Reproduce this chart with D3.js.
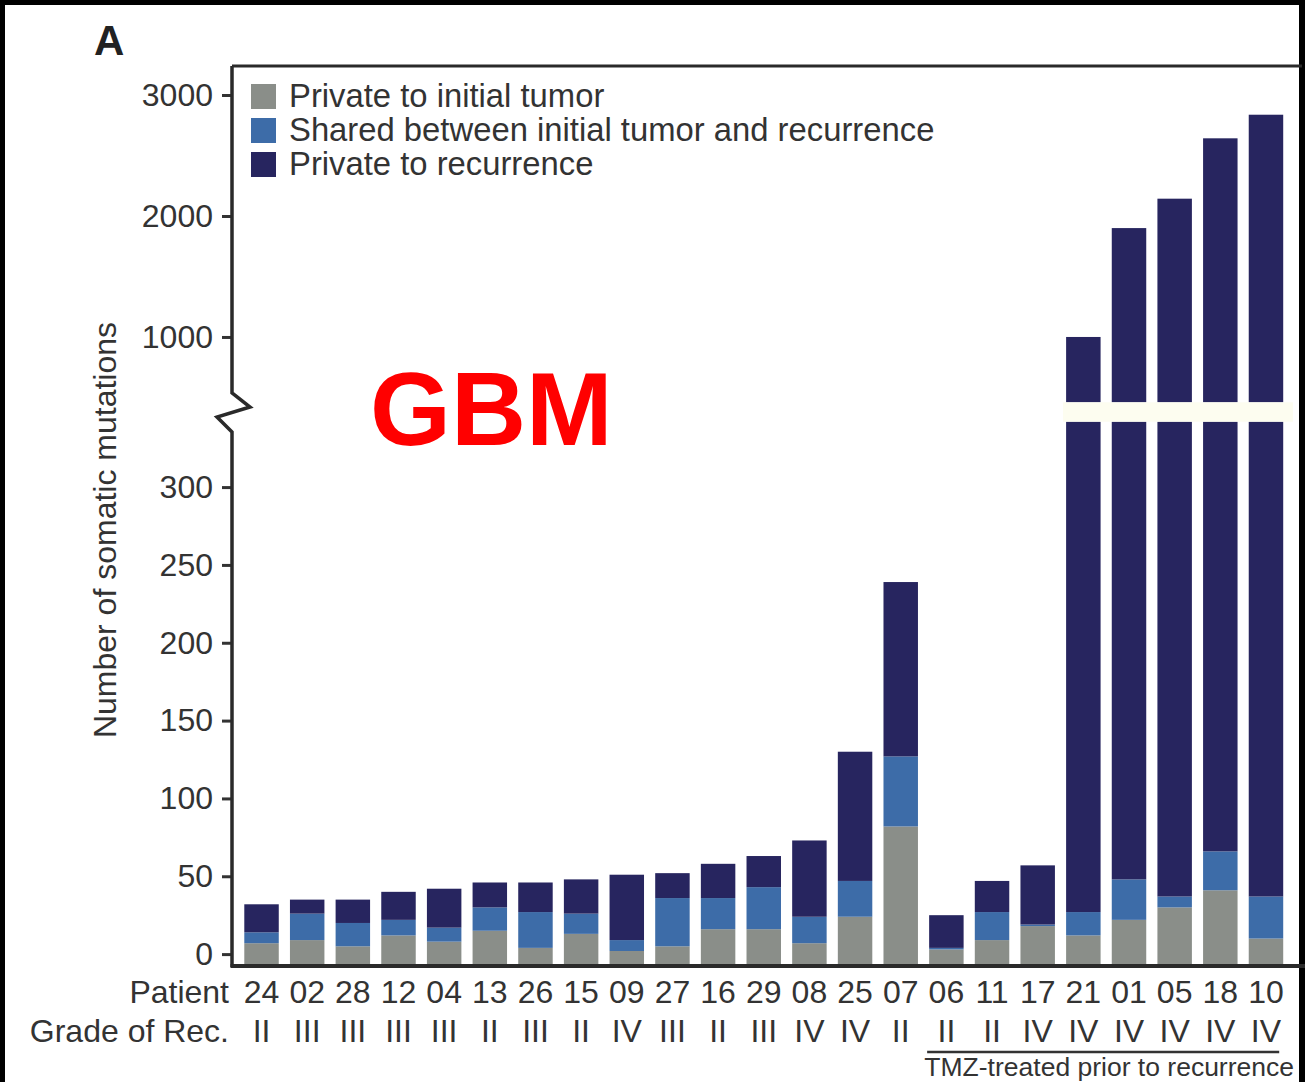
<!DOCTYPE html>
<html>
<head>
<meta charset="utf-8">
<script src="https://cdn.jsdelivr.net/npm/d3@7/dist/d3.min.js"></script>
<style>
  html, body { margin: 0; padding: 0; background: #ffffff; }
  svg { display: block; }
  text { font-family: "Liberation Sans", Arial, sans-serif; fill: #333; }
</style>
</head>
<body>
<svg id="chart" width="1305" height="1082"></svg>
<script>
// ---- data ----
const patients = ["24","02","28","12","04","13","26","15","09","27","16","29","08","25","07","06","11","17","21","01","05","18","10"];
const grades   = ["II","III","III","III","III","II","III","II","IV","III","II","III","IV","IV","II","II","II","IV","IV","IV","IV","IV","IV"];
const privateInitial = [7, 9, 5, 12, 8, 15, 4, 13, 2, 5, 16, 16, 7, 24, 82, 3, 9, 18, 12, 22, 30, 41, 10];
const shared         = [7, 17, 15, 10, 9, 15, 23, 13, 7, 31, 20, 27, 17, 23, 45, 1, 18, 1, 15, 26, 7, 25, 27];
const privateRecur   = [18, 9, 15, 18, 25, 16, 19, 22, 42, 16, 22, 20, 49, 83, 112, 21, 20, 38, 973, 1852, 2106, 2576, 2800];
const seriesNames = ["Private to initial tumor", "Shared between initial tumor and recurrence", "Private to recurrence"];
const seriesColors = ["#8a8e89", "#3d6ca8", "#27255f"];
const lowTicks = [0, 50, 100, 150, 200, 250, 300];
const highTicks = [1000, 2000, 3000];
const tmzStart = "06", tmzEnd = "10";
const tmzLabel = "TMZ-treated prior to recurrence";

// ---- layout ----
const svg = d3.select("#chart");
const axisX = 232;

const x = d3.scaleBand().domain(patients).range([238.7, 1288.8]).paddingInner(0.245).paddingOuter(0.1225);
const yLow = d3.scaleLinear().domain([-7, 342]).range([965, 421.7]);
const yHigh = d3.scaleLinear().domain([460, 3000]).range([402.3, 95]);

// image frame
svg.append("rect").attr("x", 0).attr("y", 0).attr("width", 1305).attr("height", 5).attr("fill", "#000");
svg.append("rect").attr("x", 0).attr("y", 0).attr("width", 5).attr("height", 1082).attr("fill", "#000");
svg.append("rect").attr("x", 1299).attr("y", 0).attr("width", 6).attr("height", 1082).attr("fill", "#000");

// stack data
const table = patients.map((p, i) => ({ patient: p, s0: privateInitial[i], s1: shared[i], s2: privateRecur[i] }));
const stacked = d3.stack().keys(["s0", "s1", "s2"])(table);
const base = yLow.domain()[0];

const [lowMin, lowMax] = yLow.domain();
const [highMin, highMax] = yHigh.domain();

stacked.forEach((layer, li) => {
  const g = svg.append("g").attr("fill", seriesColors[li]);
  layer.forEach(seg => {
    const v0 = li === 0 ? base : seg[0];
    const v1 = seg[1];
    const a0 = Math.max(v0, lowMin), a1 = Math.min(v1, lowMax);
    if (a1 > a0) {
      g.append("rect")
        .attr("x", x(seg.data.patient)).attr("width", x.bandwidth())
        .attr("y", yLow(a1)).attr("height", yLow(a0) - yLow(a1));
    }
    const b0 = Math.max(v0, highMin), b1 = Math.min(v1, highMax);
    if (b1 > b0) {
      g.append("rect")
        .attr("x", x(seg.data.patient)).attr("width", x.bandwidth())
        .attr("y", yHigh(b1)).attr("height", yHigh(b0) - yHigh(b1));
    }
  });
});

// break band
svg.append("rect").attr("x", 1063).attr("y", yHigh(highMin)).attr("width", 230)
  .attr("height", yLow(lowMax) - yHigh(highMin)).attr("fill", "#fdfdf0");

// axes
function styleAxis(g) {
  g.select(".domain").remove();
  g.selectAll(".tick line").attr("stroke", "#333").attr("stroke-width", 3);
  g.selectAll(".tick text").attr("font-size", 32).attr("fill", "#333").attr("x", -19)
    .style("font-family", "'Liberation Sans', Arial, sans-serif");
}
svg.append("g").attr("transform", `translate(${axisX},0)`)
  .call(d3.axisLeft(yLow).tickValues(lowTicks).tickFormat(d3.format("d")).tickSize(10).tickPadding(8))
  .call(styleAxis);
svg.append("g").attr("transform", `translate(${axisX},0)`)
  .call(d3.axisLeft(yHigh).tickValues(highTicks).tickFormat(d3.format("d")).tickSize(10).tickPadding(8))
  .call(styleAxis);

// y axis line with zigzag break
svg.append("path")
  .attr("d", `M${axisX},66 L${axisX},393 L250,407 L217,417 L${axisX},432 L${axisX},967`)
  .attr("fill", "none").attr("stroke", "#2a2a2a").attr("stroke-width", 3.5).attr("stroke-linejoin", "miter");
svg.append("line").attr("x1", axisX).attr("x2", 1302).attr("y1", 66).attr("y2", 66)
  .attr("stroke", "#2a2a2a").attr("stroke-width", 3);
svg.append("line").attr("x1", axisX - 1.5).attr("x2", 1305).attr("y1", 966).attr("y2", 966)
  .attr("stroke", "#2a2a2a").attr("stroke-width", 4);

// y axis title
svg.append("text").attr("transform", "translate(116,530) rotate(-90)")
  .attr("text-anchor", "middle").attr("font-size", 32).text("Number of somatic mutations");

// x labels
svg.append("text").attr("x", 229).attr("y", 1003).attr("text-anchor", "end").attr("font-size", 32).text("Patient");
svg.append("text").attr("x", 229).attr("y", 1042).attr("text-anchor", "end").attr("font-size", 32).text("Grade of Rec.");
svg.append("g").selectAll("text").data(patients).join("text")
  .attr("x", d => x(d) + x.bandwidth() / 2).attr("y", 1003).attr("text-anchor", "middle")
  .attr("font-size", 32).text(d => d);
svg.append("g").selectAll("text").data(patients).join("text")
  .attr("x", d => x(d) + x.bandwidth() / 2).attr("y", 1042).attr("text-anchor", "middle")
  .attr("font-size", 32).text((d, i) => grades[i]);

// TMZ bracket
svg.append("line").attr("x1", x(tmzStart) - 2).attr("x2", x(tmzEnd) + x.bandwidth() - 4)
  .attr("y1", 1052).attr("y2", 1052).attr("stroke", "#333").attr("stroke-width", 2.5);
svg.append("text").attr("x", 1294).attr("y", 1076).attr("text-anchor", "end").attr("font-size", 26.5).text(tmzLabel);

// legend
const leg = svg.append("g");
seriesNames.forEach((name, i) => {
  leg.append("rect").attr("x", 251).attr("y", 84 + i * 34).attr("width", 25).attr("height", 25).attr("fill", seriesColors[i]);
  leg.append("text").attr("x", 289).attr("y", 107 + i * 34).attr("font-size", 32.8).text(name);
});

// panel letter and overlay label
svg.append("text").attr("x", 94).attr("y", 55).attr("font-size", 42).attr("font-weight", "bold").style("fill", "#222").text("A");
svg.append("text").attr("x", 370).attr("y", 445).attr("font-size", 104).attr("font-weight", "bold").style("fill", "#ff0000").text("GBM");
</script>
</body>
</html>
